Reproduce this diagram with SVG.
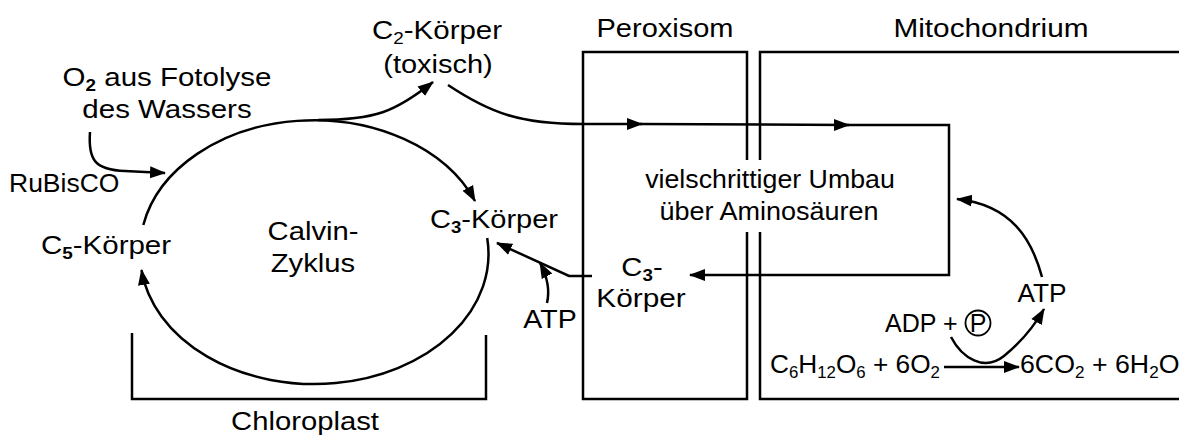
<svg xmlns="http://www.w3.org/2000/svg" width="1179" height="437" viewBox="0 0 1179 437">
<style>
text{font-family:"Liberation Sans",Arial,sans-serif;font-size:25px;fill:#000}
.m{text-anchor:middle}
.ln{fill:none;stroke:#000;stroke-width:2.5}
.arr{fill:none;stroke:#000;stroke-width:2.5;marker-end:url(#ah)}
.sub{font-size:16px}
.b{font-weight:bold}
</style>
<defs>
<marker id="ah" markerUnits="userSpaceOnUse" markerWidth="18" markerHeight="14" refX="15" refY="6" orient="auto" viewBox="0 0 18 12">
<path d="M0,0 L16,6 L0,12 z" fill="#000"/>
</marker>
</defs>

<g id="chloroplast">
<path class="ln" d="M132,333 L132,399 L486,399 L486,335"/>
<text class="m" transform="translate(305,430) scale(1.17,1)">Chloroplast</text>
</g>

<g id="peroxisom">
<path class="ln" d="M747,160 L747,52 L583,52 L583,399 L747,399 L747,232"/>
<text class="m" transform="translate(665,37) scale(1.16,1)">Peroxisom</text>
</g>

<g id="mitochondrium">
<path class="ln" d="M1185,52 L760,52 L760,160"/>
<path class="ln" d="M760,232 L760,399 L1185,399"/>
<text class="m" transform="translate(991,37) scale(1.19,1)">Mitochondrium</text>
</g>

<g id="o2">
<text class="m" transform="translate(167,86) scale(1.18,1)">O<tspan class="sub b" dy="5">2</tspan><tspan dy="-5"> aus Fotolyse</tspan></text>
<text class="m" transform="translate(167,118) scale(1.18,1)">des Wassers</text>
</g>
<g id="rubisco"><text transform="translate(9,192) scale(1.06,1)">RuBisCO</text></g>
<g id="c5"><text class="m" transform="translate(106,254) scale(1.18,1)">C<tspan class="sub b" dy="5">5</tspan><tspan dy="-5">-Körper</tspan></text></g>
<g id="calvin">
<text class="m" transform="translate(313,240) scale(1.17,1)">Calvin-</text>
<text class="m" transform="translate(313,272) scale(1.17,1)">Zyklus</text>
</g>
<g id="c3left"><text class="m" transform="translate(494,228) scale(1.16,1)">C<tspan class="sub b" dy="5">3</tspan><tspan dy="-5">-Körper</tspan></text></g>
<g id="c2">
<text class="m" transform="translate(437,39) scale(1.18,1)">C<tspan class="sub" dy="5">2</tspan><tspan dy="-5">-Körper</tspan></text>
<text class="m" transform="translate(438,73) scale(1.16,1)">(toxisch)</text>
</g>
<g id="umbau">
<text class="m" transform="translate(770,188) scale(1.07,1)">vielschrittiger Umbau</text>
<text class="m" transform="translate(769,220) scale(1.08,1)">über Aminosäuren</text>
</g>
<g id="c3perox">
<text class="m" transform="translate(642,276) scale(1.17,1)">C<tspan class="sub b" dy="5">3</tspan><tspan dy="-5">-</tspan></text>
<text class="m" transform="translate(641,307) scale(1.19,1)">Körper</text>
</g>
<g id="atp-left"><text class="m" transform="translate(550,328) scale(1.14,1)">ATP</text></g>
<g id="atp-right"><text class="m" transform="translate(1042,302) scale(1.05,1)">ATP</text></g>
<g id="adp">
<text transform="translate(885,332)">ADP +</text>
<circle cx="978" cy="323" r="12.5" fill="none" stroke="#000" stroke-width="1.8"/>
<text class="m" x="978" y="332">P</text>
</g>
<g id="glucose"><text transform="translate(770,373) scale(1.05,1)">C<tspan class="sub" dy="5">6</tspan><tspan dy="-5">H</tspan><tspan class="sub" dy="5">12</tspan><tspan dy="-5">O</tspan><tspan class="sub" dy="5">6</tspan><tspan dy="-5"> + 6O</tspan><tspan class="sub" dy="5">2</tspan></text></g>
<g id="products"><text transform="translate(1020,373) scale(1.07,1)">6CO<tspan class="sub" dy="5">2</tspan><tspan dy="-5"> + 6H</tspan><tspan class="sub" dy="5">2</tspan><tspan dy="-5">O</tspan></text></g>

<g id="connectors">
<path class="arr" d="M143.3,225 A174,130 0 0,1 475,201"/>
<path class="arr" d="M487.2,238 A174,130 0 0,1 141.5,270"/>
<path class="arr" d="M90,132 C88,160 95,170 125,171 L165,173"/>
<path class="arr" d="M318,120 C375,120 395,112 433,82"/>
<path class="arr" d="M448,85 C490,113 520,124 583,124 L642,124"/>
<path class="arr" d="M640,124 L849,125"/>
<path class="arr" d="M845,125 L949,125 L949,275 L690,275"/>
<path class="arr" d="M592,276 L569,276 L497,243"/>
<path class="arr" d="M547,303 C550,290 548,278 540,263"/>
<path class="arr" d="M1042,277 C1032,240 1012,205 957,199"/>
<path class="arr" d="M951,337 C962,358 984,372 1004,356 C1020,343 1032,330 1044,309"/>
<path class="arr" d="M944,367 L1019,367"/>
</g>
</svg>
